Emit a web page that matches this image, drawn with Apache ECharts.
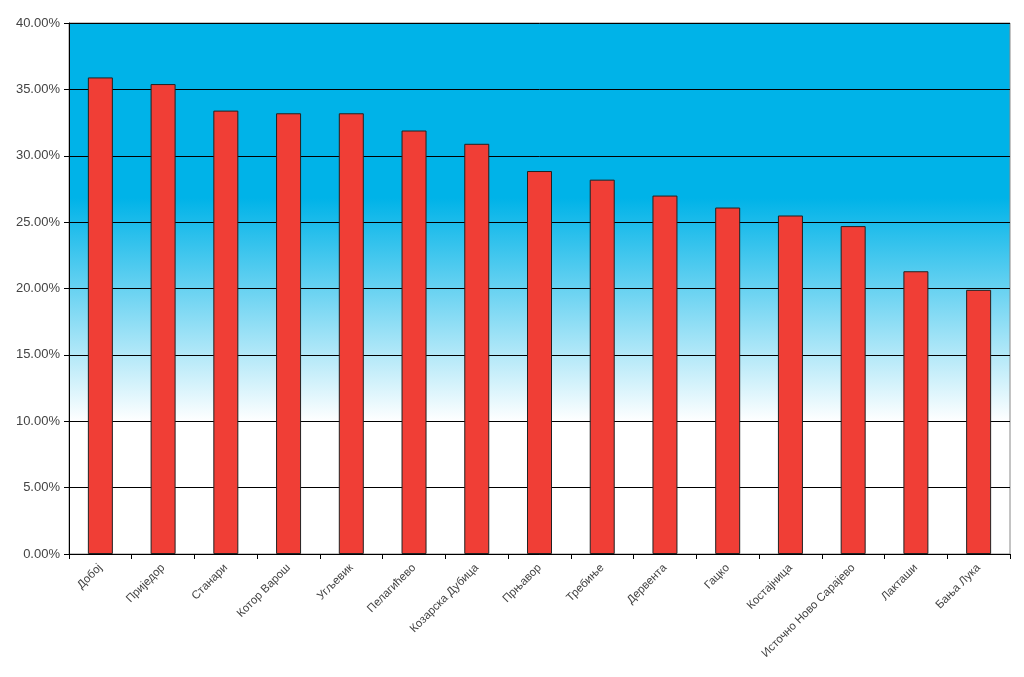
<!DOCTYPE html>
<html>
<head>
<meta charset="utf-8">
<script src="https://cdn.jsdelivr.net/npm/echarts@6/dist/echarts.min.js"></script>
<style>
  html, body { margin: 0; padding: 0; background: #fff; }
  #main { width: 1024px; height: 677px; }
</style>
</head>
<body>
<div id="main"></div>
<script>
// општине
var cities = ['Добој', 'Приједор', 'Станари', 'Котор Варош', 'Угљевик', 'Пелагићево',
  'Козарска Дубица', 'Прњавор', 'Требиње', 'Дервента', 'Гацко', 'Костајница',
  'Источно Ново Сарајево', 'Лакташи', 'Бања Лука'];
// проценат
var values = [35.9, 35.4, 33.4, 33.2, 33.2, 31.9, 30.9, 28.85, 28.2, 27.0, 26.1, 25.5, 24.7, 21.3, 19.9];

var myChart = echarts.init(document.getElementById('main'));
var option = {
  animation: false,
  grid: {
    left: 69, right: 14, top: 23, bottom: 123,
    show: true,
    borderColor: '#888',
    borderWidth: 1,
    backgroundColor: {
      type: 'linear', x: 0, y: 0, x2: 0, y2: 1,
      colorStops: [
        { offset: 0, color: '#00b3e8' },
        { offset: 0.33, color: '#00b3e8' },
        { offset: 0.75, color: '#ffffff' },
        { offset: 1, color: '#ffffff' }
      ]
    }
  },
  xAxis: {
    type: 'category',
    data: cities,
    axisLine: { lineStyle: { color: '#000' } },
    axisTick: { show: true, alignWithLabel: false, length: 5, lineStyle: { color: '#000' } },
    axisLabel: {
      rotate: 45, interval: 0, margin: 12,
      fontFamily: 'Liberation Sans, Arial', fontSize: 11.5, color: '#444'
    }
  },
  yAxis: {
    type: 'value',
    min: 0, max: 40, interval: 5,
    axisLine: { show: true, lineStyle: { color: '#000' } },
    axisTick: { show: true, length: 5, lineStyle: { color: '#000' } },
    splitLine: { lineStyle: { color: '#000', width: 1 } },
    axisLabel: {
      margin: 9,
      fontFamily: 'Liberation Sans, Arial', fontSize: 13, color: '#444',
      formatter: function (v) { return v.toFixed(2) + '%'; }
    }
  },
  series: [{
    type: 'bar',
    data: values,
    barWidth: 25,
    itemStyle: { color: '#f03e36', borderColor: '#222', borderWidth: 1 }
  }]
};
myChart.setOption(option);
</script>
</body>
</html>
